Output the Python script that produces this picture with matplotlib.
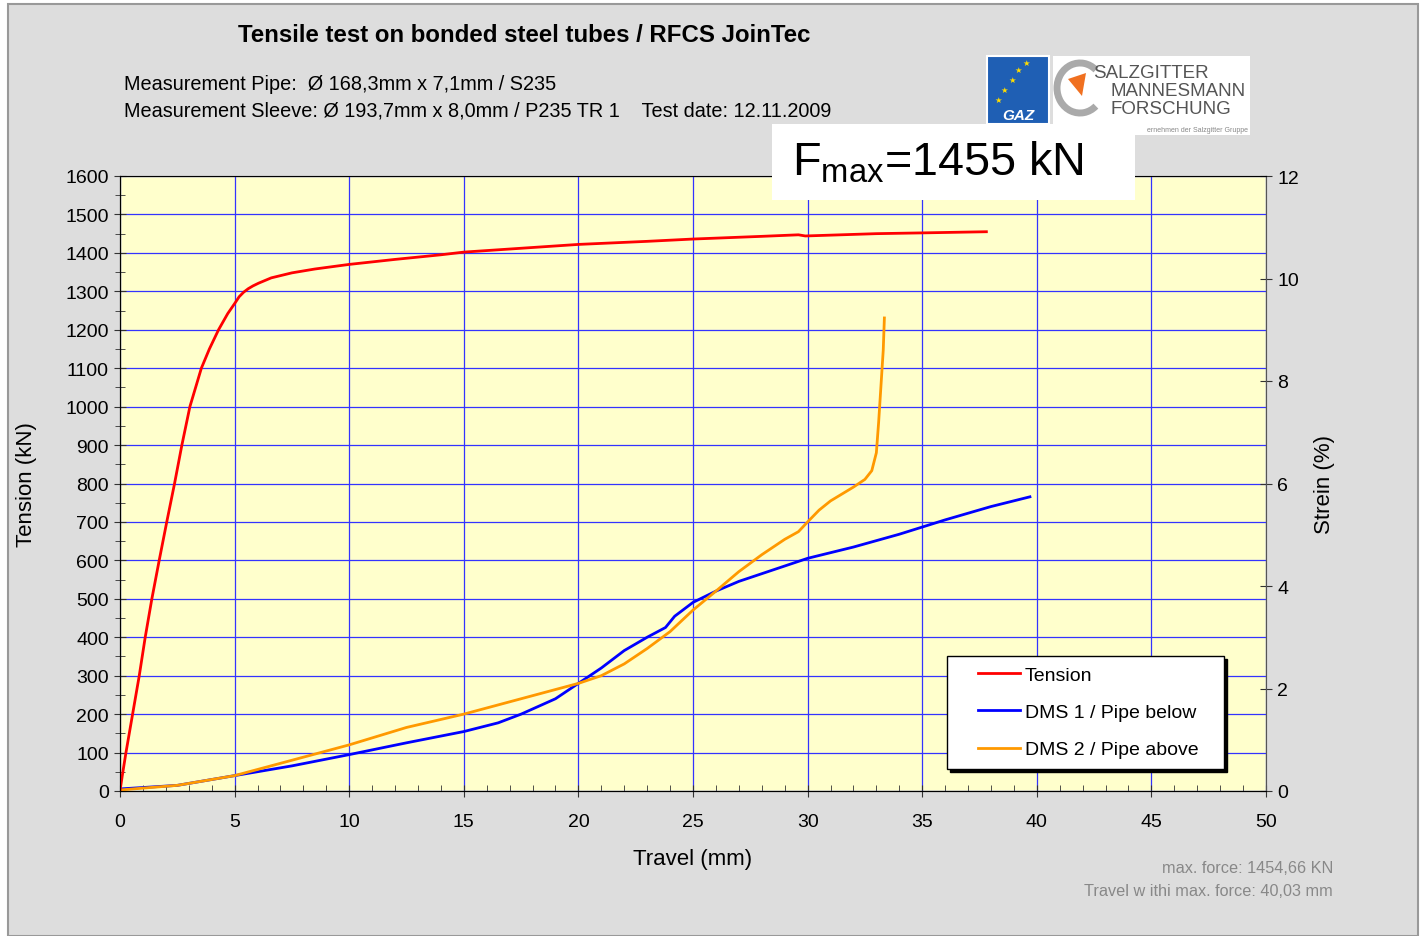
import numpy as np
import matplotlib.pyplot as plt
from matplotlib.patches import Rectangle, Arc, Polygon
from matplotlib.lines import Line2D
from matplotlib.legend_handler import HandlerLine2D
from matplotlib.ticker import MultipleLocator

# Tension curve (travel mm, force kN)
ten_x = [0, 0.1, 0.26, 0.55, 0.84, 1.10, 1.39, 1.71, 2.04, 2.38, 2.7, 3.05, 3.3, 3.55, 3.9, 4.3, 4.7, 5.0,
         5.2, 5.4, 5.6, 5.8, 6.04, 6.6, 7.5, 8.5, 10, 12, 14, 15, 17, 20, 23, 25, 28, 29.6, 29.9, 33, 35, 37.8]
ten_y = [0, 40, 100, 200, 300, 400, 500, 600, 700, 800, 900, 1000, 1050, 1100, 1150, 1200, 1242, 1268,
         1286, 1298, 1307, 1314, 1321, 1335, 1348, 1358, 1370, 1383, 1395, 1402, 1410, 1422, 1430, 1436, 1443,
         1447, 1444, 1450, 1452, 1455]

# DMS 1 / pipe below (travel mm, strain %)
dms1_x = [0, 2.5, 5, 7.5, 10, 12.5, 15, 16.5, 17.5, 19, 20, 21, 22, 23, 23.8, 24.2, 25, 26, 27, 28, 29, 30, 32, 34,
          36, 38, 39.7]
dms1_y = [0.04, 0.11, 0.30, 0.49, 0.71, 0.94, 1.16, 1.33, 1.50, 1.80, 2.10, 2.40, 2.74, 3.00, 3.19, 3.41, 3.68, 3.90,
          4.09, 4.24, 4.39, 4.54, 4.76, 5.01, 5.29, 5.55, 5.74]

# DMS 2 / pipe above (travel mm, strain %)
dms2_x = [0, 2.5, 5, 7.5, 10, 12.5, 15, 17.5, 20, 21, 22, 23, 24, 25, 26, 27, 28, 29, 29.6, 30, 30.5, 31, 32, 32.5,
          32.8, 33.0, 33.1, 33.2, 33.3, 33.35]
dms2_y = [0.02, 0.11, 0.30, 0.60, 0.90, 1.24, 1.50, 1.80, 2.10, 2.25, 2.48, 2.78, 3.11, 3.53, 3.90, 4.28, 4.61, 4.91,
          5.06, 5.25, 5.48, 5.66, 5.93, 6.08, 6.25, 6.60, 7.20, 7.90, 8.60, 9.23]

x_ticks = [0, 5, 10, 15, 20, 25, 30, 35, 40, 45, 50]
y_ticks = list(range(0, 1700, 100))
y2_ticks = [0, 2, 4, 6, 8, 10, 12]


class ShortLine(HandlerLine2D):
    # legend line only on the right part of the handle box
    def create_artists(self, legend, orig_handle, xdescent, ydescent, width, height, fontsize, trans):
        arts = super().create_artists(legend, orig_handle, xdescent, ydescent, width, height, fontsize, trans)
        for a in arts:
            if isinstance(a, Line2D):
                x = np.asarray(a.get_xdata(), float)
                y = np.asarray(a.get_ydata(), float)
                a.set_data([x.min() + 0.33 * (x.max() - x.min()), x.max()], [y[0], y[0]])
        return arts


plt.rcParams['font.family'] = ['Liberation Sans', 'DejaVu Sans']

W, H = 1422, 937
fig = plt.figure(figsize=(W / 100, H / 100), dpi=100)
fig.patches.append(Rectangle((8 / W, 0), 1410 / W, 932 / H, transform=fig.transFigure,
                             facecolor='#dddddd', edgecolor='#999999', lw=1.5, zorder=-10))

ax = fig.add_axes([120 / W, 1 - 792 / H, 1146 / W, 615 / H])
ax.set_facecolor('#ffffcc')
ax.set_xlim(0, 50)
ax.set_ylim(0, 1600)
ax.set_xticks(x_ticks)
ax.set_yticks(y_ticks)
ax.xaxis.set_minor_locator(MultipleLocator(1))
ax.yaxis.set_minor_locator(MultipleLocator(50))
ax.grid(True, which='major', color='#3333ff', lw=0.9)
ax.tick_params(labelsize=14, direction='inout', length=9, color='#333333')
ax.tick_params(axis='x', pad=11)
ax.tick_params(axis='x', which='minor', direction='in', length=4, color='#333333')
ax.tick_params(axis='y', which='minor', direction='inout', length=7, color='#333333')
ax.set_xlabel('Travel (mm)', fontsize=16, labelpad=13)
ax.set_ylabel('Tension (kN)', fontsize=16, labelpad=20)
for s in ['top', 'right']:
    ax.spines[s].set_color('#999999')

ax2 = ax.twinx()
ax2.set_ylim(0, 12)
ax2.set_yticks(y2_ticks)
ax2.tick_params(labelsize=14, direction='inout', length=9, color='#333333')
ax2.set_ylabel('Strein (%)', fontsize=16, labelpad=11)
ax2.spines['right'].set_color('#555555')

ax2.plot(dms1_x, dms1_y, color='#0000ff', lw=2)
ax2.plot(dms2_x, dms2_y, color='#ff9900', lw=2)
ax2.plot(ten_x, [v * 12 / 1600 for v in ten_y], color='#ff0000', lw=2)

handles = [Line2D([], [], color='#ff0000', lw=2), Line2D([], [], color='#0000ff', lw=2),
           Line2D([], [], color='#ff9900', lw=2)]
leg = ax2.legend(handles, ['Tension', 'DMS 1 / Pipe below', 'DMS 2 / Pipe above'],
                 loc='lower left', bbox_to_anchor=((947 - 120) / 1146, (792 - 770) / 615, 277 / 1146, 0.1),
                 mode='expand', fontsize=14, frameon=True,
                 fancybox=False, shadow={'color': 'black', 'alpha': 1}, edgecolor='black',
                 borderpad=0.55, labelspacing=1.0, handlelength=3.2, handletextpad=0.25, borderaxespad=0,
                 handler_map={Line2D: ShortLine()})
leg.get_frame().set_linewidth(1)

fig.text(238 / W, 1 - 36 / H, 'Tensile test on bonded steel tubes / RFCS JoinTec', fontsize=17.3,
         fontweight='bold', va='center')
fig.text(124 / W, 1 - 85 / H, 'Measurement Pipe:  Ø 168,3mm x 7,1mm / S235', fontsize=14.3, va='center')
fig.text(124 / W, 1 - 111 / H, 'Measurement Sleeve: Ø 193,7mm x 8,0mm / P235 TR 1    Test date: 12.11.2009',
         fontsize=14.3, va='center')

# logos
fig.patches.append(Rectangle((987 / W, 1 - 125 / H), 62 / W, 68 / H, transform=fig.transFigure,
                             facecolor='#1f5fb4', edgecolor='white', lw=1.5, zorder=5))
fig.text(1018 / W, 1 - 116 / H, 'GAZ', color='white', fontsize=11, fontweight='bold', ha='center',
         va='center', zorder=6, style='italic')
for sx, sy in [(998, 100), (1004, 90), (1012, 80), (1018, 70), (1026, 63)]:
    fig.text(sx / W, 1 - sy / H, '★', color='#ffdd00', fontsize=6, ha='center', va='center', zorder=6,
             family='DejaVu Sans')
fig.patches.append(Rectangle((1053 / W, 1 - 125 / H), 197 / W, 68 / H, transform=fig.transFigure,
                             facecolor='white', edgecolor='none', zorder=5))
fig.patches.append(Rectangle((1135 / W, 1 - 136 / H), 115 / W, 11 / H, transform=fig.transFigure,
                             facecolor='white', edgecolor='none', zorder=5))
fig.patches.append(Arc((1080 / W, 1 - 89 / H), 46 / W, 50 / H, theta1=60, theta2=300,
                       transform=fig.transFigure, color='#aaaaaa', lw=5, zorder=6))
fig.patches.append(Polygon([(1068 / W, 1 - 80 / H), (1086 / W, 1 - 74 / H), (1082 / W, 1 - 97 / H)],
                           closed=True, transform=fig.transFigure, facecolor='#f07020', edgecolor='none',
                           zorder=6))
for txt, tx, ty in [('SALZGITTER', 1093, 73), ('MANNESMANN', 1110, 91), ('FORSCHUNG', 1110, 109)]:
    fig.text(tx / W, 1 - ty / H, txt, color='#555555', fontsize=13.5, va='center', zorder=6)
fig.text(1248 / W, 1 - 131 / H, 'ernehmen der Salzgitter Gruppe', color='#888888', fontsize=5,
         ha='right', va='center', zorder=6)

# Fmax box
fig.patches.append(Rectangle((772 / W, 1 - 201 / H), 363 / W, 76 / H, transform=fig.transFigure,
                             facecolor='white', edgecolor='none', zorder=7))
fig.text(792 / W, 1 - 163 / H, r'F$_{\mathregular{max}}$=1455 kN', fontsize=33.7, va='center', zorder=8)

fig.text(1333 / W, 1 - 869 / H, 'max. force: 1454,66 KN', color='#888888', fontsize=11.7, ha='right',
         va='center')
fig.text(1333 / W, 1 - 892 / H, 'Travel w ithi max. force: 40,03 mm', color='#888888', fontsize=11.7,
         ha='right', va='center')

fig.savefig('out.png', dpi=100)
